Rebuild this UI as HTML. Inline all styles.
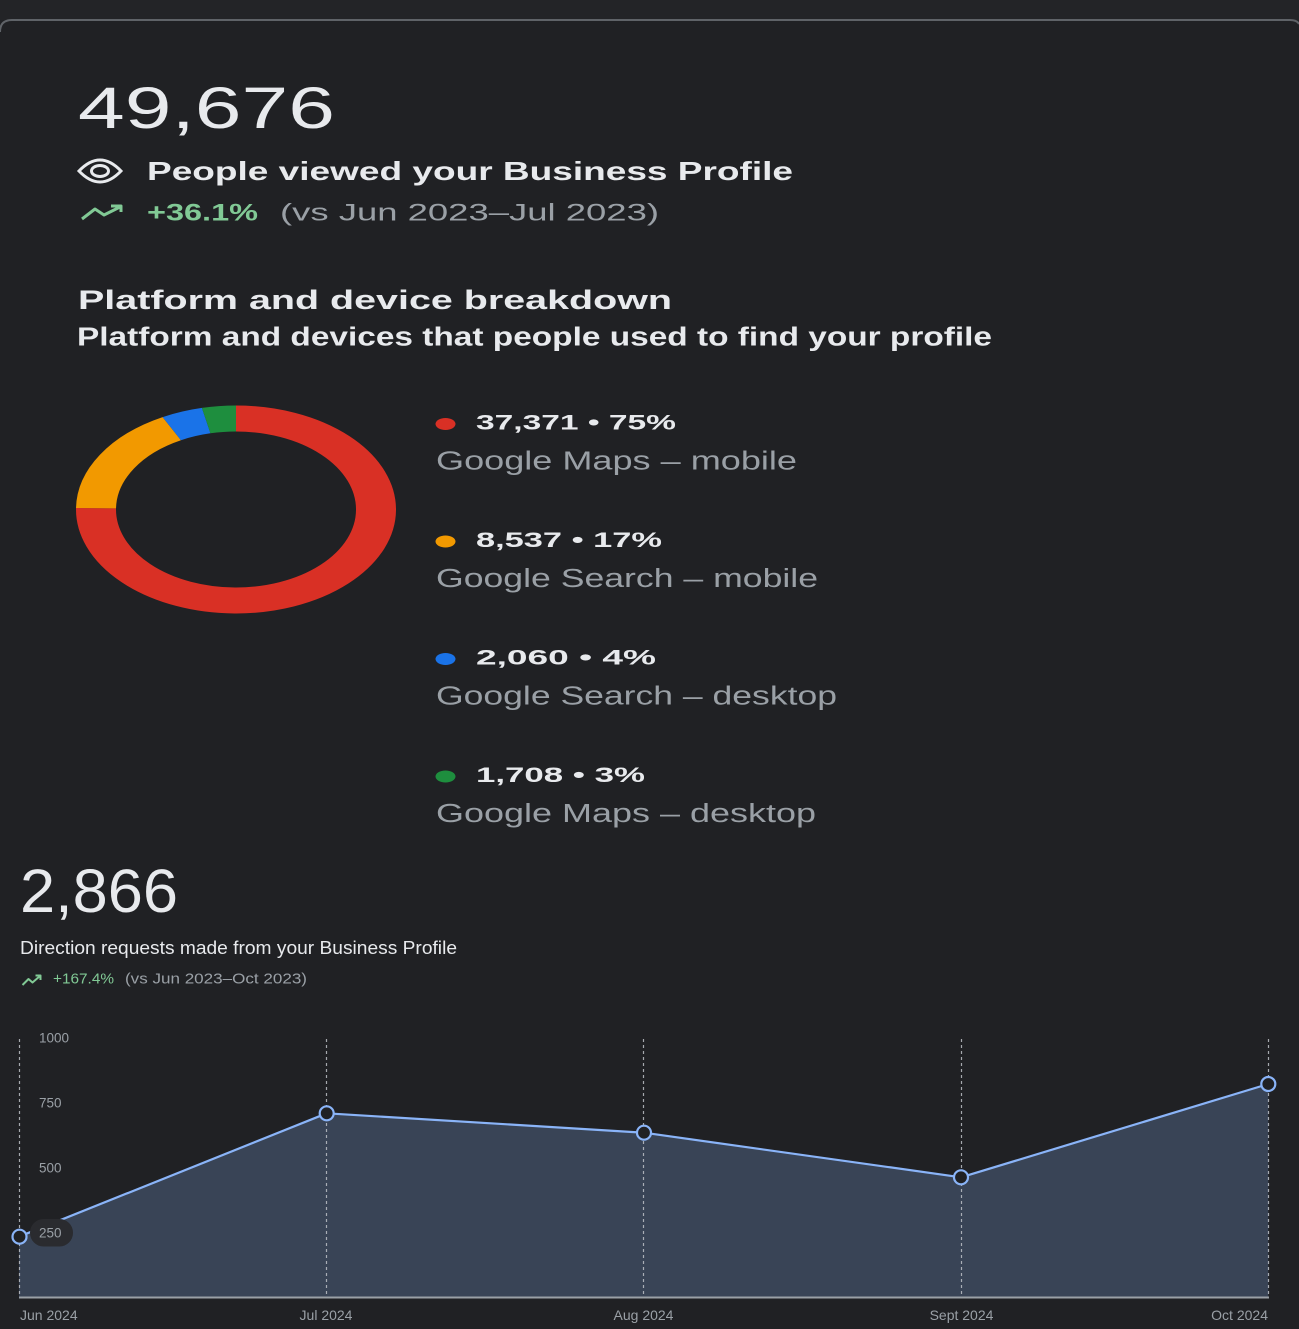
<!DOCTYPE html>
<html>
<head>
<meta charset="utf-8">
<style>
html,body{margin:0;padding:0;background:#202124;}
svg{display:block;}
text{font-family:"Liberation Sans",Arial,sans-serif;}
</style>
</head>
<body>
<svg width="1299" height="1329" viewBox="0 0 1299 1329" xmlns="http://www.w3.org/2000/svg">
  <rect x="0" y="0" width="1299" height="1329" fill="#202124"/>
  <rect x="0" y="0" width="1299" height="20" fill="#232427"/>
  <path d="M0,32 Q0,20 12,20 L1290,20 Q1297,20 1299,24" fill="none" stroke="#5f6368" stroke-width="2"/>

  <text x="78" y="128" font-size="58" fill="#e8eaed" textLength="257" lengthAdjust="spacingAndGlyphs">49,676</text>

  <g transform="translate(100,171)" fill="none" stroke="#e8eaed" stroke-width="3">
    <path d="M-21,0 Q0,-22 21,0 Q0,22 -21,0 Z"/>
    <ellipse cx="0" cy="0" rx="8.5" ry="5.5"/>
  </g>
  <text x="147" y="180" font-size="26" font-weight="bold" fill="#e8eaed" textLength="646" lengthAdjust="spacingAndGlyphs">People viewed your Business Profile</text>

  <g fill="none" stroke="#81c995" stroke-width="3" stroke-linejoin="round">
    <polyline points="82,219 95,209 104,215 120,207"/>
    <polyline points="111,206 121,206 121,212"/>
  </g>
  <text x="147" y="220.5" font-size="24" font-weight="bold" fill="#81c995" textLength="111" lengthAdjust="spacingAndGlyphs">+36.1%</text>
  <text x="280" y="220.5" font-size="24" fill="#9aa0a6" textLength="379" lengthAdjust="spacingAndGlyphs">(vs Jun 2023–Jul 2023)</text>

  <text x="78" y="309" font-size="27" font-weight="bold" fill="#e8eaed" textLength="594" lengthAdjust="spacingAndGlyphs">Platform and device breakdown</text>
  <text x="77" y="345.5" font-size="25.5" font-weight="bold" fill="#e8eaed" textLength="915" lengthAdjust="spacingAndGlyphs">Platform and devices that people used to find your profile</text>

  <g transform="translate(236,509.5) scale(1.5385,1)" fill="none" stroke-width="26">
    <path d="M0,-91 A91,91 0 1 1 -90.99,-1.27" stroke="#d93025"/>
    <path d="M-90.99,-1.27 A91,91 0 0 1 -41.73,-80.86" stroke="#f29900"/>
    <path d="M-41.73,-80.86 A91,91 0 0 1 -19.38,-88.91" stroke="#1a73e8"/>
    <path d="M-19.38,-88.91 A91,91 0 0 1 0,-91" stroke="#1e8e3e"/>
  </g>

  <ellipse cx="445.5" cy="424" rx="10" ry="6" fill="#d93025"/>
  <text x="476" y="429.3" font-size="21" font-weight="bold" fill="#e8eaed" textLength="200" lengthAdjust="spacingAndGlyphs">37,371 • 75%</text>
  <text x="436" y="469.3" font-size="25.5" fill="#9aa0a6" textLength="361" lengthAdjust="spacingAndGlyphs">Google Maps – mobile</text>

  <ellipse cx="445.5" cy="541.5" rx="10" ry="6" fill="#f29900"/>
  <text x="476" y="546.8" font-size="21" font-weight="bold" fill="#e8eaed" textLength="186" lengthAdjust="spacingAndGlyphs">8,537 • 17%</text>
  <text x="436" y="586.8" font-size="25.5" fill="#9aa0a6" textLength="382" lengthAdjust="spacingAndGlyphs">Google Search – mobile</text>

  <ellipse cx="445.5" cy="659" rx="10" ry="6" fill="#1a73e8"/>
  <text x="476" y="664.3" font-size="21" font-weight="bold" fill="#e8eaed" textLength="180" lengthAdjust="spacingAndGlyphs">2,060 • 4%</text>
  <text x="436" y="704.3" font-size="25.5" fill="#9aa0a6" textLength="401" lengthAdjust="spacingAndGlyphs">Google Search – desktop</text>

  <ellipse cx="445.5" cy="776.5" rx="10" ry="6" fill="#1e8e3e"/>
  <text x="476" y="781.8" font-size="21" font-weight="bold" fill="#e8eaed" textLength="169" lengthAdjust="spacingAndGlyphs">1,708 • 3%</text>
  <text x="436" y="821.8" font-size="25.5" fill="#9aa0a6" textLength="380" lengthAdjust="spacingAndGlyphs">Google Maps – desktop</text>

  <text x="20" y="912" font-size="61" fill="#e8eaed" textLength="158" lengthAdjust="spacingAndGlyphs">2,866</text>
  <text x="20" y="954" font-size="18.5" fill="#e8eaed" textLength="437" lengthAdjust="spacingAndGlyphs">Direction requests made from your Business Profile</text>
  <g fill="none" stroke="#81c995" stroke-width="2" stroke-linejoin="round">
    <polyline points="22.5,985 28.5,979 32.5,982.5 40,976"/>
    <polyline points="35.5,975.5 40.5,975.5 40.5,980"/>
  </g>
  <text x="53" y="983.5" font-size="14.5" fill="#81c995" textLength="61" lengthAdjust="spacingAndGlyphs">+167.4%</text>
  <text x="125" y="983.5" font-size="14.5" fill="#9aa0a6" textLength="182" lengthAdjust="spacingAndGlyphs">(vs Jun 2023–Oct 2023)</text>

  <polygon points="19,1297 19,1236.7 326.7,1113.3 644,1132.7 961,1177.3 1268.3,1084 1268.3,1297" fill="#394456"/>
  <g stroke="#bdc1c6" stroke-width="1.2" stroke-dasharray="3,3" opacity="0.85">
    <line x1="19.5" y1="1039" x2="19.5" y2="1297"/>
    <line x1="326.5" y1="1039" x2="326.5" y2="1297"/>
    <line x1="643.5" y1="1039" x2="643.5" y2="1297"/>
    <line x1="961.5" y1="1039" x2="961.5" y2="1297"/>
    <line x1="1268.5" y1="1039" x2="1268.5" y2="1297"/>
  </g>
  <line x1="19" y1="1297.5" x2="1269" y2="1297.5" stroke="#9aa0a6" stroke-width="2"/>
  <polyline points="19,1236.7 326.7,1113.3 644,1132.7 961,1177.3 1268.3,1084" fill="none" stroke="#8ab4f8" stroke-width="2.2" stroke-linejoin="round"/>

  <text x="39" y="1042.5" font-size="13.5" fill="#9aa0a6">1000</text>
  <text x="39" y="1107.5" font-size="13.5" fill="#9aa0a6">750</text>
  <text x="39" y="1172.5" font-size="13.5" fill="#9aa0a6">500</text>
  <rect x="30" y="1219" width="43" height="27.5" rx="13.5" fill="#2a2b2f"/>
  <text x="39" y="1237.5" font-size="13.5" fill="#9aa0a6">250</text>

  <g fill="#202124" stroke="#8ab4f8" stroke-width="2.2">
    <circle cx="19.5" cy="1236.7" r="7"/>
    <circle cx="326.7" cy="1113.3" r="7"/>
    <circle cx="644" cy="1132.7" r="7"/>
    <circle cx="961" cy="1177.3" r="7"/>
    <circle cx="1268.3" cy="1084" r="7"/>
  </g>

  <text x="20" y="1320" font-size="14" fill="#9aa0a6">Jun 2024</text>
  <text x="326" y="1320" font-size="14" fill="#9aa0a6" text-anchor="middle">Jul 2024</text>
  <text x="643.5" y="1320" font-size="14" fill="#9aa0a6" text-anchor="middle">Aug 2024</text>
  <text x="961.5" y="1320" font-size="14" fill="#9aa0a6" text-anchor="middle">Sept 2024</text>
  <text x="1268" y="1320" font-size="14" fill="#9aa0a6" text-anchor="end">Oct 2024</text>
</svg>
</body>
</html>
